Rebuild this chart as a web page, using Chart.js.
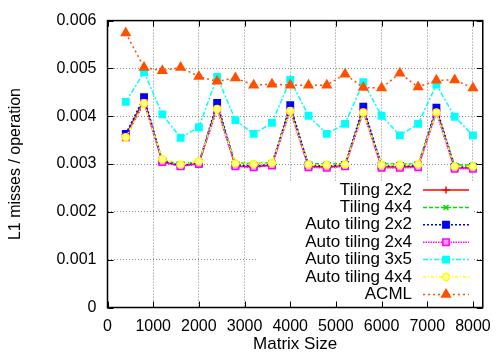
<!DOCTYPE html>
<html>
<head>
<meta charset="utf-8">
<style>
  body { margin: 0; background: #fff; }
  canvas { display: block; }
</style>
<script src="https://cdn.jsdelivr.net/npm/chart.js@4.4.1/dist/chart.umd.min.js"></script>
</head>
<body>
<canvas id="chart" width="500" height="360"></canvas>
<script>
// data
const matrixSizes = [400, 800, 1200, 1600, 2000, 2400, 2800, 3200, 3600, 4000,
                     4400, 4800, 5200, 5600, 6000, 6400, 6800, 7200, 7600, 8000];

const tiling2x2 = [0.00360, 0.00435, 0.00305, 0.00296, 0.00301, 0.00422, 0.00296, 0.00294, 0.00298, 0.00417,
                   0.00295, 0.00294, 0.00297, 0.00414, 0.00294, 0.00294, 0.00295, 0.00413, 0.00292, 0.00292];
const tiling4x4 = [0.00358, 0.00430, 0.00308, 0.00300, 0.00305, 0.00418, 0.00302, 0.00301, 0.00303, 0.00413,
                   0.00301, 0.00300, 0.00301, 0.00410, 0.00300, 0.00300, 0.00300, 0.00410, 0.00298, 0.00298];
const autoTiling2x2 = [0.00363, 0.00440, 0.00306, 0.00297, 0.00302, 0.00428, 0.00298, 0.00296, 0.00299, 0.00423,
                       0.00297, 0.00296, 0.00298, 0.00420, 0.00296, 0.00296, 0.00297, 0.00418, 0.00294, 0.00294];
const autoTiling2x4 = [0.00356, 0.00428, 0.00304, 0.00295, 0.00300, 0.00415, 0.00295, 0.00293, 0.00297, 0.00411,
                       0.00293, 0.00292, 0.00295, 0.00408, 0.00292, 0.00292, 0.00293, 0.00407, 0.00290, 0.00290];
const autoTiling3x5 = [0.00430, 0.00492, 0.00404, 0.00355, 0.00377, 0.00482, 0.00392, 0.00363, 0.00386, 0.00476,
                       0.00401, 0.00363, 0.00384, 0.00471, 0.00401, 0.00360, 0.00384, 0.00466, 0.00399, 0.00360];
const autoTiling4x4 = [0.00356, 0.00427, 0.00310, 0.00299, 0.00306, 0.00415, 0.00301, 0.00300, 0.00302, 0.00411,
                       0.00299, 0.00298, 0.00299, 0.00408, 0.00298, 0.00298, 0.00299, 0.00408, 0.00295, 0.00295];
const acml = [0.00574, 0.00502, 0.00495, 0.00502, 0.00483, 0.00473, 0.00480, 0.00465, 0.00467, 0.00465,
              0.00465, 0.00465, 0.00488, 0.00460, 0.00459, 0.00490, 0.00461, 0.00475, 0.00476, 0.00459];

const xTicks = [0, 1000, 2000, 3000, 4000, 5000, 6000, 7000, 8000];
const yTicks = [0, 0.001, 0.002, 0.003, 0.004, 0.005, 0.006];

const FONT = '"Liberation Sans", Arial, sans-serif';

const toPoints = (vals) => vals.map((v, i) => ({ x: matrixSizes[i], y: v }));

const series = [
  { label: 'Tiling 2x2', data: tiling2x2, color: '#ff0000', dash: [], style: 'cross', r: 3.5, fill: '#ff0000' },
  { label: 'Tiling 4x4', data: tiling4x4, color: '#00e000', dash: [4, 2], style: 'crossRot', r: 3.5, fill: '#00e000' },
  { label: 'Auto tiling 2x2', data: autoTiling2x2, color: '#0000ff', dash: [2, 2], style: 'rect', r: 4.5, fill: '#0000ff' },
  { label: 'Auto tiling 2x4', data: autoTiling2x4, color: '#ff00ff', dash: [1.5, 1], style: 'rect', r: 4.5, fill: '#ff99ff' },
  { label: 'Auto tiling 3x5', data: autoTiling3x5, color: '#00ffff', dash: [5, 2, 2, 2], style: 'rect', r: 4.5, fill: '#00ffff' },
  { label: 'Auto tiling 4x4', data: autoTiling4x4, color: '#ffff00', dash: [3, 2, 1, 2], style: 'circle', r: 3.5, fill: '#ffff99' },
  { label: 'ACML', data: acml, color: '#ff5000', dash: [2, 3], style: 'triangle', r: 5, fill: '#ff5000' }
];

// white key box, then the key entries (gnuplot style: text on the left, sample on the right)
const keyPlugin = {
  id: 'gnuKey',
  beforeDatasetsDraw(chart) {
    const ctx = chart.ctx;
    ctx.save();
    ctx.fillStyle = '#fff';
    ctx.fillRect(257, 182, 217, chart.chartArea.bottom - 182 - 1);
    ctx.restore();
  },
  afterDatasetsDraw(chart) {
    const ctx = chart.ctx;
    ctx.save();
    ctx.font = '17px ' + FONT;
    ctx.textAlign = 'right';
    ctx.textBaseline = 'middle';
    chart.data.datasets.forEach((ds, i) => {
      const y = 190 + i * 17.4;
      ctx.fillStyle = '#000';
      ctx.fillText(ds.label, 412, y);
      ctx.save();
      ctx.strokeStyle = ds.borderColor;
      ctx.lineWidth = ds.borderWidth;
      ctx.setLineDash(ds.borderDash);
      ctx.beginPath();
      ctx.moveTo(423, y);
      ctx.lineTo(469, y);
      ctx.stroke();
      ctx.restore();
      ctx.save();
      ctx.strokeStyle = ds.pointBorderColor;
      ctx.fillStyle = ds.pointBackgroundColor;
      ctx.lineWidth = ds.pointBorderWidth;
      Chart.helpers.drawPoint(ctx, { pointStyle: ds.pointStyle, radius: ds.pointRadius, rotation: 0, borderWidth: ds.pointBorderWidth }, 446, y);
      ctx.restore();
    });
    ctx.restore();
  },
  afterDraw(chart) {
    const { ctx, chartArea: a, scales } = chart;
    ctx.save();
    ctx.strokeStyle = '#000';
    ctx.lineWidth = 1.5;
    ctx.strokeRect(a.left, a.top, a.right - a.left, a.bottom - a.top);
    ctx.lineWidth = 1;
    ctx.beginPath();
    xTicks.forEach(t => {
      const px = Math.round(scales.x.getPixelForValue(t)) + 0.5;
      ctx.moveTo(px, a.bottom); ctx.lineTo(px, a.bottom - 6);
      ctx.moveTo(px, a.top); ctx.lineTo(px, a.top + 6);
    });
    yTicks.forEach(t => {
      const py = Math.round(scales.y.getPixelForValue(t)) + 0.5;
      ctx.moveTo(a.left, py); ctx.lineTo(a.left + 6, py);
      ctx.moveTo(a.right, py); ctx.lineTo(a.right - 6, py);
    });
    ctx.stroke();
    ctx.restore();
  }
};

new Chart(document.getElementById('chart'), {
  type: 'line',
  data: {
    datasets: series.map((s, i) => ({
      label: s.label,
      data: toPoints(s.data),
      borderColor: s.color,
      backgroundColor: s.fill,
      borderWidth: 1.5,
      borderDash: s.dash,
      pointStyle: s.style,
      pointRadius: s.r,
      pointBorderWidth: 1.5,
      pointBorderColor: s.color,
      pointBackgroundColor: s.fill,
      tension: 0,
      fill: false,
      order: series.length - 1 - i
    }))
  },
  options: {
    responsive: false,
    animation: false,
    layout: { padding: { top: 15, right: 10, left: 0, bottom: 0 } },
    plugins: {
      legend: { display: false },
      tooltip: { enabled: false }
    },
    scales: {
      x: {
        type: 'linear',
        min: 0,
        max: 8215,
        afterFit: (scale) => { scale.height = 52.5; },
        afterBuildTicks: (scale) => { scale.ticks = xTicks.map(v => ({ value: v })); },
        ticks: {
          padding: 9,
          maxRotation: 0,
          autoSkip: false,
          color: '#000',
          font: { family: FONT, size: 16 },
          callback: (v) => String(v)
        },
        grid: { color: '#888', drawTicks: false },
        border: { display: false, dash: [1, 2] },
        title: { display: true, text: 'Matrix Size', color: '#000', font: { family: FONT, size: 17 }, padding: { top: 0, bottom: 5 } }
      },
      y: {
        min: 0,
        max: 0.006,
        afterFit: (scale) => { scale.width = 107.5; },
        afterBuildTicks: (scale) => { scale.ticks = yTicks.map(v => ({ value: v })); },
        ticks: {
          padding: 11,
          autoSkip: false,
          color: '#000',
          font: { family: FONT, size: 16 },
          callback: (v) => v === 0 ? '0' : v.toFixed(3)
        },
        grid: { color: '#888', drawTicks: false },
        border: { display: false, dash: [1, 2] },
        title: { display: true, text: 'L1 misses / operation', color: '#000', font: { family: FONT, size: 16 }, padding: { top: 6, bottom: 0 } }
      }
    }
  },
  plugins: [keyPlugin]
});
</script>
</body>
</html>
